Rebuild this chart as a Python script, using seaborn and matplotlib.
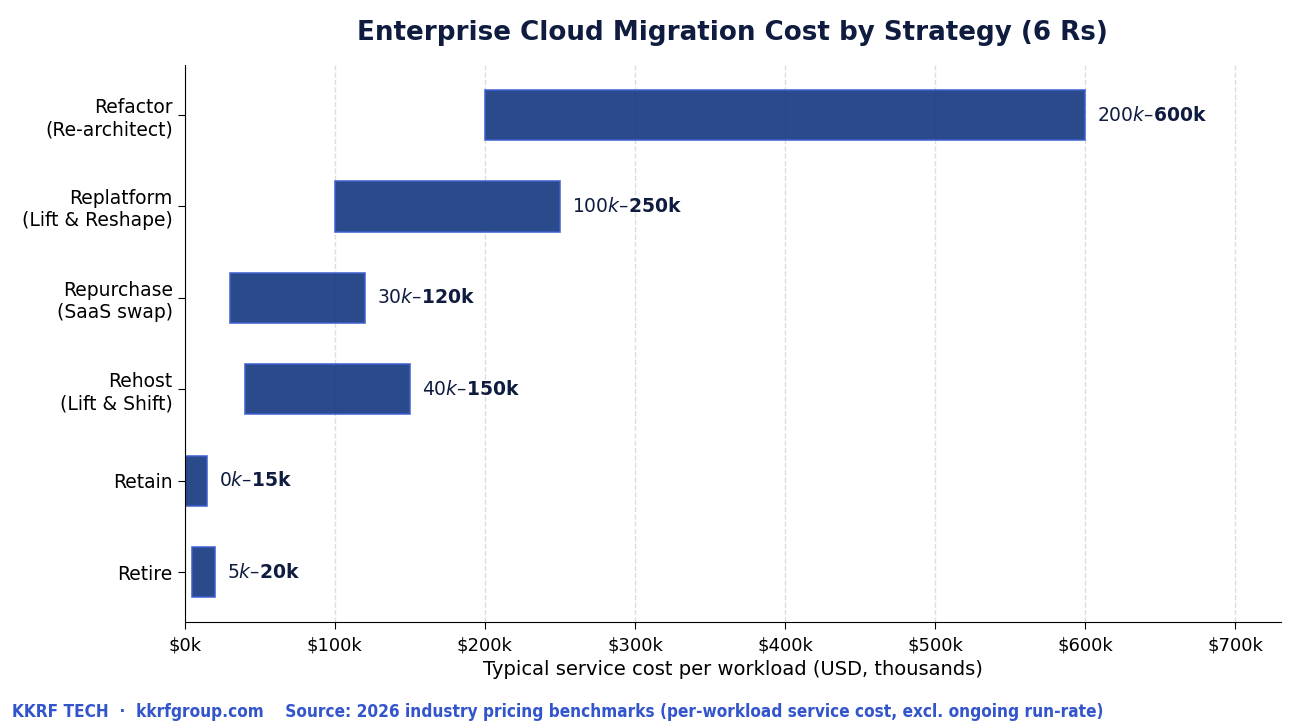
import matplotlib
matplotlib.use("Agg")
import matplotlib.pyplot as plt
import seaborn as sns
import pandas as pd

strategies = ["Refactor\n(Re-architect)", "Replatform\n(Lift & Reshape)", "Repurchase\n(SaaS swap)",
              "Rehost\n(Lift & Shift)", "Retain", "Retire"]
low_k = [200, 100, 30, 40, 0, 5]
high_k = [600, 250, 120, 150, 15, 20]
xticks = [0, 100, 200, 300, 400, 500, 600, 700]
xtick_labels = ["$0k", "$100k", "$200k", "$300k", "$400k", "$500k", "$600k", "$700k"]

sns.set_style("white")
plt.rcParams['font.family'] = ['DejaVu Sans']

df = pd.DataFrame({"strategy": strategies, "low": low_k, "high": high_k})
df["span"] = df["high"] - df["low"]

fig, ax = plt.subplots(figsize=(13, 7.28), dpi=100)
fig.subplots_adjust(left=0.142, right=0.985, top=0.911, bottom=0.145)

ax.set_axisbelow(True)
ax.grid(axis="x", linestyle="--", color="#dddddd", linewidth=1)

sns.barplot(data=df, y="strategy", x="span", left=df["low"].values, orient="h",
            color="#193a81", edgecolor="#3d5fd0", linewidth=1.2, width=0.55,
            saturation=1, alpha=0.92, ax=ax)

for i, (lo, hi) in enumerate(zip(low_k, high_k)):
    ax.text(hi + 8, i, f"${lo}k–${hi}k", va="center", ha="left", fontsize=13.5,
            fontweight="bold", color="#0f1c3f")

ax.set_ylim(5.55, -0.55)
ax.set_xlim(0, 730)
ax.set_xticks(xticks)
ax.set_xticklabels([t.replace("$", r"\$") for t in xtick_labels], fontsize=13, color="black")
ax.tick_params(axis="y", labelsize=13.5, length=5, labelcolor="black", color="black")
ax.tick_params(axis="x", length=5, pad=5, color="black")
ax.tick_params(axis="both", which="major", bottom=True, left=True)
for s in ("left", "bottom"):
    ax.spines[s].set_color("black")
ax.set_ylabel("")
ax.set_xlabel("Typical service cost per workload (USD, thousands)", fontsize=14, color="black", labelpad=4)
ax.set_title("Enterprise Cloud Migration Cost by Strategy (6 Rs)", fontsize=18.8,
             fontweight="bold", color="#0f1c3f", pad=18)
sns.despine(ax=ax)

fig.text(0.009, 0.022, "KKRF TECH  ·  kkrfgroup.com    Source: 2026 industry pricing benchmarks (per-workload service cost, excl. ongoing run-rate)",
         fontsize=12.3, fontweight="bold", color="#3355cc", family="DejaVu Sans",
         fontstretch="condensed", ha="left", va="center")

fig.savefig("out.png", dpi=100)
